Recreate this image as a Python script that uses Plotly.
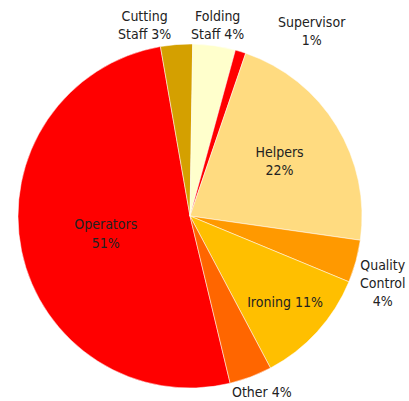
import plotly.graph_objects as go

labels = ["Operators", "Cutting<br>Staff", "Folding<br>Staff", "Supervisor", "Helpers",
          "Quality<br>Control", "Ironing", "Other"]
values = [51, 3, 4, 1, 22, 4, 11, 4]
colors = ["#FF0000", "#D4A000", "#FFFFCC", "#FF0000", "#FFDB80", "#FF9900", "#FFBF00", "#FF6600"]
templates = ["%{label}<br>%{percent:.0%}", "", "", "", "%{label}<br>%{percent:.0%}",
             "", "%{label} %{percent:.0%}", ""]
positions = ["inside", "none", "none", "none", "inside", "none", "inside", "none"]

# outside label placement (paper coords) and separator between label and percent
outside = {
    1: (0.369, 1.055, " "),
    2: (0.581, 1.055, " "),
    3: (0.855, 1.038, "<br>"),
    5: (1.061, 0.305, "<br>"),
    7: (0.709, -0.012, " "),
}

font = dict(family="DejaVu Sans Condensed, sans-serif", size=14, color="#222222")

fig = go.Figure(go.Pie(
    labels=labels, values=values, sort=False, direction="clockwise", rotation=166.5,
    marker=dict(colors=colors, line=dict(color="white", width=0.5)),
    texttemplate=templates, textposition=positions,
    insidetextorientation="horizontal", automargin=False,
    textfont=font,
    showlegend=False, hoverinfo="label+percent",
))

total = sum(values)
for i, (x, y, sep) in outside.items():
    pct = round(100 * values[i] / total)
    fig.add_annotation(x=x, y=y, xref="paper", yref="paper", xanchor="center", yanchor="middle",
                       text=f"{labels[i]}{sep}{pct}%", showarrow=False, font=font)

fig.update_layout(
    width=409, height=401,
    margin=dict(l=18, r=47, t=44, b=13, autoexpand=False),
    paper_bgcolor="white",
)
fig.write_html("out.html")
